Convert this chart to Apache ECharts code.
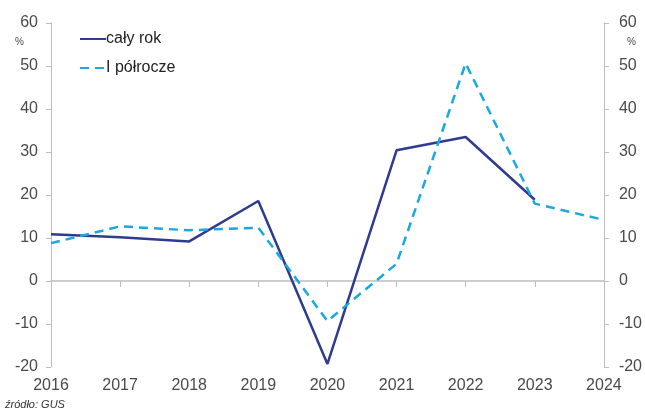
<!DOCTYPE html>
<html>
<head>
<meta charset="utf-8">
<script src="https://cdn.jsdelivr.net/npm/echarts@6/dist/echarts.min.js"></script>
<style>
  html, body { margin: 0; padding: 0; background: #fff; }
  #chart { width: 645px; height: 412px; }
</style>
</head>
<body>
<div id="chart"></div>
<script>
// data
const years = ["2016", "2017", "2018", "2019", "2020", "2021", "2022", "2023", "2024"];
const calyRok = [10.9, 10.2, 9.2, 18.6, -19.3, 30.4, 33.5, 18.9, null];
const polrocze = [8.8, 12.7, 11.8, 12.4, -9.3, 4.0, 50.6, 18.0, 14.2];
const yTicks = { min: -20, max: 60, interval: 10 };

const navy = "#2E3B8E";
const sky = "#19A8E0";
const axisGray = "#BDBDBD";
const textGray = "#4A4A4A";

const chart = echarts.init(document.getElementById("chart"));

// y axis config shared by both sides
const makeYAxis = (position, margin) => ({
  type: "value",
  position,
  min: yTicks.min,
  max: yTicks.max,
  interval: yTicks.interval,
  axisLine: { show: true, lineStyle: { color: axisGray, width: 1 } },
  axisTick: { show: true, length: 5, lineStyle: { color: axisGray } },
  axisLabel: {
    color: textGray,
    fontFamily: "Liberation Sans",
    fontSize: 16,
    margin,
  },
  splitLine: { show: false },
});

const option = {
  animation: false,
  grid: { left: 51, right: 41, top: 23, bottom: 45, containLabel: false },
  legend: {
    orient: "vertical",
    left: 74,
    top: 26,
    itemGap: 13,
    itemWidth: 26,
    itemHeight: 3,
    itemStyle: { opacity: 0 },
    textStyle: { color: "#222", fontFamily: "Liberation Sans", fontSize: 16, padding: [0, 0, 0, -5] },
    data: ["cały rok", "I półrocze"],
  },
  xAxis: [
    {
      type: "category",
      data: years,
      boundaryGap: false,
      axisLine: { onZero: true, lineStyle: { color: axisGray, width: 1.5 } },
      axisTick: { show: true, length: 6, lineStyle: { color: axisGray } },
      axisLabel: { show: false },
    },
    {
      type: "category",
      data: years,
      boundaryGap: false,
      position: "bottom",
      axisLine: { show: false, onZero: false },
      axisTick: { show: false },
      axisLabel: {
        color: textGray,
        fontFamily: "Liberation Sans",
        fontSize: 16,
        margin: 11,
      },
    },
  ],
  yAxis: [makeYAxis("left", 13), makeYAxis("right", 15)],
  series: [
    {
      name: "cały rok",
      type: "line",
      data: calyRok,
      symbol: "none",
      lineStyle: { color: navy, width: 2.5 },
      itemStyle: { color: navy },
    },
    {
      name: "I półrocze",
      type: "line",
      data: polrocze,
      symbol: "none",
      lineStyle: { color: sky, width: 2.5, type: [9, 6] },
      itemStyle: { color: sky },
    },
  ],
  graphic: [
    {
      type: "text",
      left: 15,
      top: 37,
      style: { text: "%", fill: textGray, font: "10px Liberation Sans" },
    },
    {
      type: "text",
      left: 627,
      top: 37,
      style: { text: "%", fill: textGray, font: "10px Liberation Sans" },
    },
    {
      type: "text",
      left: 5,
      top: 399,
      style: { text: "źródło: GUS", fill: "#333", font: "italic 11px Liberation Sans" },
    },
  ],
};

chart.setOption(option);
</script>
</body>
</html>
